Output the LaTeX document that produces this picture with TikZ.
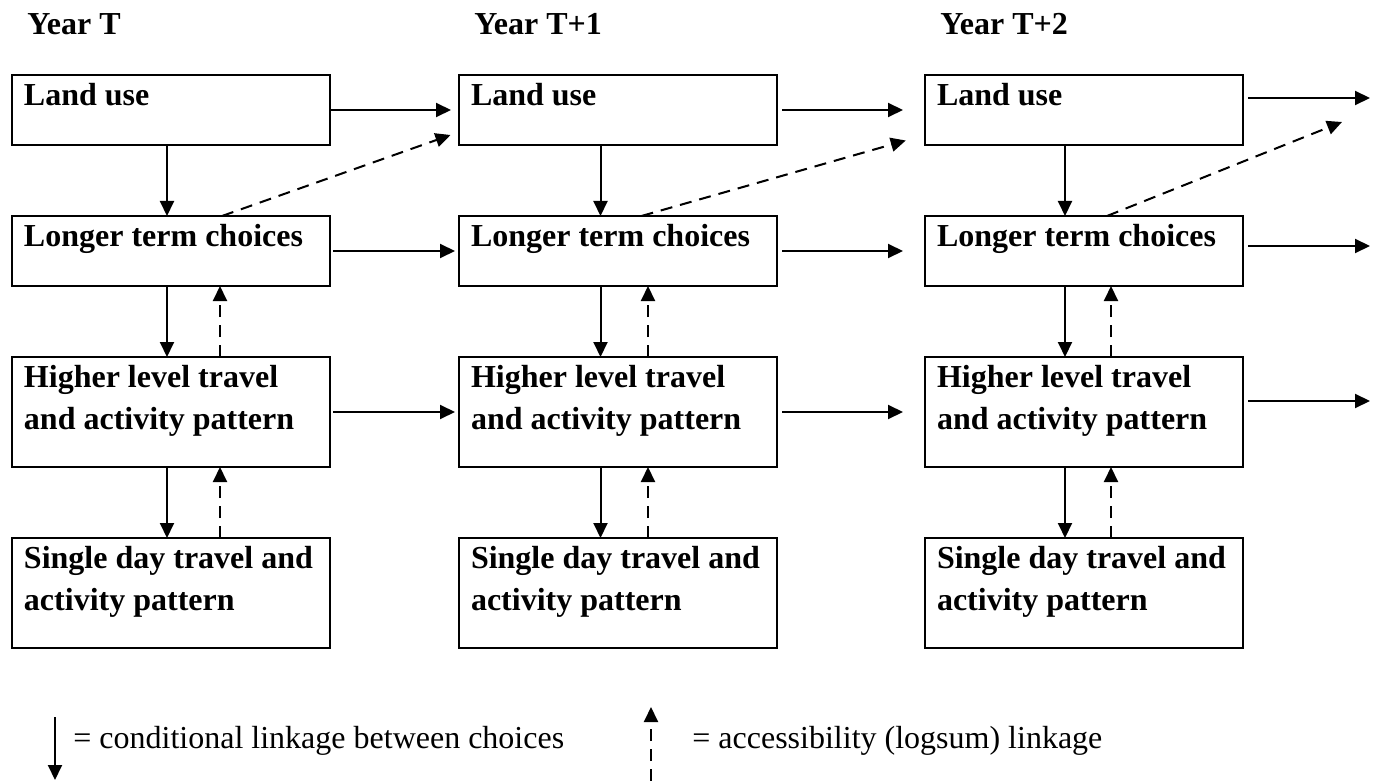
\documentclass[tikz,border=0pt]{standalone}
\usepackage{fontspec}
\setmainfont{Liberation Serif}
\usetikzlibrary{arrows.meta, positioning}

\newcommand{\boxtext}[2]{\parbox[c][#1][t]{147pt}{\raggedright\strut #2}}

\begin{document}
\begin{tikzpicture}[
    x=0.5pt, y=-0.5pt,
    node distance=35.5pt,
    box/.style={rectangle, draw=black, line width=1.3pt, outer sep=0pt, inner xsep=6pt, inner ysep=0.5pt, font=\bfseries\fontsize{16}{21}\selectfont},
    year/.style={anchor=base west, inner sep=0pt, font=\bfseries\fontsize{16}{21}\selectfont},
    legend/.style={anchor=base west, inner sep=0pt, font=\fontsize{16}{21}\selectfont},
    arrow/.style={-{Triangle[length=7.5pt, width=7pt]}, line width=1pt},
    dasharrow/.style={arrow, dash pattern=on 6pt off 4pt}
]
\useasboundingbox (0,0) rectangle (1377,781);

% Nodes, year T
\node[box, anchor=north west] (lu1) at (12,75) {\boxtext{34pt}{Land use}};
\node[box, below=of lu1] (lt1) {\boxtext{34pt}{Longer term choices}};
\node[box, below=of lt1] (hl1) {\boxtext{54pt}{Higher level travel\\and activity pattern}};
\node[box, below=of hl1] (sd1) {\boxtext{54pt}{Single day travel and\\activity pattern}};

% Nodes, year T+1
\node[box, right=64.5pt of lu1] (lu2) {\boxtext{34pt}{Land use}};
\node[box, below=of lu2] (lt2) {\boxtext{34pt}{Longer term choices}};
\node[box, below=of lt2] (hl2) {\boxtext{54pt}{Higher level travel\\and activity pattern}};
\node[box, below=of hl2] (sd2) {\boxtext{54pt}{Single day travel and\\activity pattern}};

% Nodes, year T+2
\node[box, right=74pt of lu2] (lu3) {\boxtext{34pt}{Land use}};
\node[box, below=of lu3] (lt3) {\boxtext{34pt}{Longer term choices}};
\node[box, below=of lt3] (hl3) {\boxtext{54pt}{Higher level travel\\and activity pattern}};
\node[box, below=of hl3] (sd3) {\boxtext{54pt}{Single day travel and\\activity pattern}};

% Headings
\node[year] (yr1) at ([shift={(7.5pt,20pt)}]lu1.north west) {Year T};
\node[year] (yr2) at ([shift={(7.5pt,20pt)}]lu2.north west) {Year T+1};
\node[year] (yr3) at ([shift={(7.5pt,20pt)}]lu3.north west) {Year T+2};

% Arrows between years
\draw[arrow, shorten >=4pt] (lu1) -- (lu2);
\draw[arrow, shorten <=1.5pt, shorten >=2pt] (lt1) -- (lt2);
\draw[arrow, shorten <=1.5pt, shorten >=2pt] (hl1) -- (hl2);
\draw[arrow, shorten <=2.5pt, shorten >=11pt] (lu2) -- (lu3);
\draw[arrow, shorten <=2.5pt, shorten >=11pt] (lt2) -- (lt3);
\draw[arrow, shorten <=2.5pt, shorten >=11pt] (hl2) -- (hl3);

\coordinate (out1) at (1370,98);
\coordinate (out2) at (1370,246);
\coordinate (out3) at (1370,401);
\draw[arrow, shorten <=2.5pt] (lu3.east |- out1) -- (out1);
\draw[arrow, shorten <=2.5pt] (lt3.east |- out2) -- (out2);
\draw[arrow, shorten <=2.5pt] (hl3.east |- out3) -- (out3);

% Conditional linkages
\draw[arrow] ([xshift=-2pt]lu1.south) -- ([xshift=-2pt]lt1.north);
\draw[arrow] ([xshift=-2pt]lt1.south) -- ([xshift=-2pt]hl1.north);
\draw[arrow] ([xshift=-2pt]hl1.south) -- ([xshift=-2pt]sd1.north);
\draw[arrow] ([xshift=-8.75pt]lu2.south) -- ([xshift=-8.75pt]lt2.north);
\draw[arrow] ([xshift=-8.75pt]lt2.south) -- ([xshift=-8.75pt]hl2.north);
\draw[arrow] ([xshift=-8.75pt]hl2.south) -- ([xshift=-8.75pt]sd2.north);
\draw[arrow] ([xshift=-9.5pt]lu3.south) -- ([xshift=-9.5pt]lt3.north);
\draw[arrow] ([xshift=-9.5pt]lt3.south) -- ([xshift=-9.5pt]hl3.north);
\draw[arrow] ([xshift=-9.5pt]hl3.south) -- ([xshift=-9.5pt]sd3.north);

% Accessibility linkages
\draw[dasharrow] ([xshift=24.5pt]hl1.north) -- ([xshift=24.5pt]lt1.south);
\draw[dasharrow] ([xshift=24.5pt]sd1.north) -- ([xshift=24.5pt]hl1.south);
\draw[dasharrow] ([xshift=15pt]hl2.north) -- ([xshift=15pt]lt2.south);
\draw[dasharrow] ([xshift=15pt]sd2.north) -- ([xshift=15pt]hl2.south);
\draw[dasharrow] ([xshift=13.5pt]hl3.north) -- ([xshift=13.5pt]lt3.south);
\draw[dasharrow] ([xshift=13.5pt]sd3.north) -- ([xshift=13.5pt]hl3.south);

\draw[dasharrow, shorten >=4.5pt] ([xshift=25.5pt]lt1.north) -- ([yshift=-11pt]lu2.west);
\draw[dasharrow, shorten >=10pt] ([xshift=11.75pt]lt2.north) -- ([yshift=-12.5pt]lu3.west);
\coordinate (accend) at (1342,122);
\draw[dasharrow] ([xshift=11.5pt]lt3.north) -- (accend);

% Legend
\coordinate (condtop) at (55,717);
\coordinate (condbot) at (55,780);
\draw[arrow] (condtop) -- (condbot);
\node[legend] (condtxt) at (73,748) {= conditional linkage between choices};

\coordinate (accbot) at (651,781);
\coordinate (acctop) at (651,707);
\draw[dasharrow] (accbot) -- (acctop);
\node[legend] (acctxt) at (692,748) {= accessibility (logsum) linkage};

\end{tikzpicture}
\end{document}
